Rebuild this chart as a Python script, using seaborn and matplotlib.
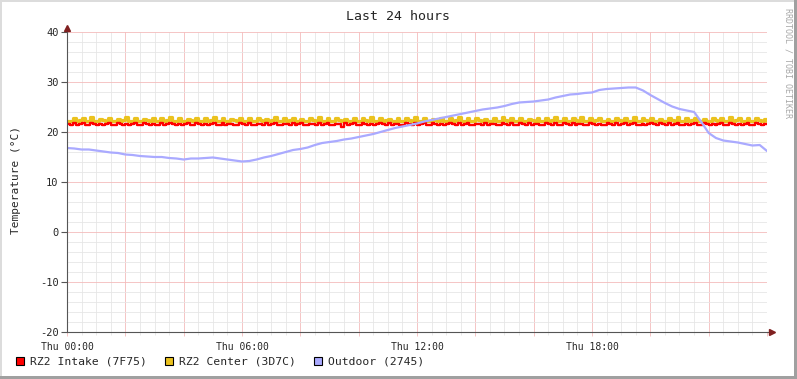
import matplotlib
matplotlib.use("Agg")
import matplotlib.pyplot as plt
import matplotlib.ticker as mticker
from matplotlib.patches import Rectangle
import seaborn as sns
import numpy as np
import pandas as pd

# RZ2 Intake, one sample every 6 minutes (00:00 .. 24:00)
intake = [
    21.6, 21.5, 21.8, 21.5, 21.6, 21.9, 21.5, 21.5, 21.8, 21.6, 21.5, 21.7,
    21.5, 21.6, 21.9, 21.5, 21.5, 21.8, 21.6, 21.5, 21.7, 21.5, 21.6, 21.9,
    21.5, 21.5, 21.8, 21.6, 21.5, 21.7, 21.5, 21.4, 21.9, 21.5, 21.6, 21.8,
    21.6, 21.5, 21.7, 21.5, 21.6, 21.9, 21.4, 21.5, 21.8, 21.6, 21.5, 21.7,
    21.5, 21.6, 21.9, 21.5, 21.5, 21.8, 21.5, 21.6, 21.7, 21.4, 21.5, 21.9,
    21.6, 21.5, 21.8, 21.5, 21.5, 21.7, 21.6, 21.5, 21.9, 21.5, 21.6, 21.8,
    21.5, 21.4, 21.7, 21.6, 21.5, 21.9, 21.5, 21.6, 21.8, 21.5, 21.5, 21.7,
    21.6, 21.5, 21.9, 21.4, 21.6, 21.8, 21.5, 21.4, 21.7, 21.6, 21.1, 21.8,
    21.5, 21.6, 21.8, 21.5, 21.4, 21.9, 21.6, 21.5, 21.7, 21.5, 21.6, 21.8,
    21.6, 21.5, 21.9, 21.5, 21.6, 21.7, 21.4, 21.5, 21.8, 21.6, 21.5, 21.9,
    21.5, 21.6, 21.8, 21.5, 21.5, 21.9, 21.6, 21.5, 21.7, 21.5, 21.6, 21.8,
    21.6, 21.4, 21.9, 21.5, 21.6, 21.8, 21.5, 21.4, 21.7, 21.6, 21.5, 21.9,
    21.5, 21.6, 21.7, 21.5, 21.5, 21.8, 21.6, 21.5, 21.9, 21.5, 21.4, 21.8,
    21.6, 21.5, 21.9, 21.5, 21.6, 21.7, 21.4, 21.5, 21.8, 21.6, 21.5, 21.9,
    21.5, 21.5, 21.8, 21.6, 21.5, 21.9, 21.5, 21.6, 21.7, 21.4, 21.5, 21.8,
    21.6, 21.5, 21.7, 21.5, 21.4, 21.9, 21.6, 21.5, 21.8, 21.5, 21.6, 21.9,
    21.5, 21.6, 21.8, 21.4, 21.5, 21.7, 21.5, 21.6, 21.9, 21.6, 21.4, 21.8,
    21.6, 21.5, 21.9, 21.5, 21.6, 21.8, 21.4, 21.5, 21.7, 21.5, 21.6, 21.9,
    21.5, 21.4, 21.8, 21.6, 21.5, 21.7, 21.5, 21.6, 21.9, 21.4, 21.5, 21.8,
    21.6, 21.5, 21.7, 21.5, 21.6, 21.9, 21.5, 21.4, 21.8, 21.6, 21.5, 21.7,
    21.6,
]

# RZ2 Center, same 6 minute samples
center = [
    22.3, 22.2, 22.9, 22.3, 22.4, 22.8, 22.2, 22.3, 23.0, 22.3, 22.2, 22.7,
    22.4, 22.3, 22.9, 22.2, 22.3, 22.6, 22.3, 22.4, 23.0, 22.2, 22.3, 22.8,
    22.3, 22.2, 22.7, 22.4, 22.3, 22.9, 22.2, 22.3, 22.8, 22.3, 22.4, 23.0,
    22.2, 22.3, 22.8, 22.3, 22.2, 22.7, 22.4, 22.3, 22.9, 22.2, 22.3, 22.8,
    22.3, 22.4, 23.0, 22.2, 22.3, 22.8, 22.3, 22.2, 22.7, 22.4, 22.3, 22.9,
    22.2, 22.3, 22.8, 22.3, 22.2, 22.9, 22.4, 22.3, 22.6, 22.2, 22.4, 23.1,
    22.3, 22.2, 22.8, 22.3, 22.4, 22.9, 22.2, 22.3, 22.7, 22.3, 22.2, 22.9,
    22.4, 22.3, 23.0, 22.2, 22.3, 22.8, 22.3, 22.2, 22.9, 22.4, 22.3, 22.7,
    22.2, 22.3, 22.9, 22.3, 22.2, 22.8, 22.4, 22.3, 23.0, 22.2, 22.3, 22.8,
    22.3, 22.4, 22.7, 22.2, 22.3, 22.9, 22.3, 22.2, 22.8, 22.4, 22.3, 23.0,
    22.2, 22.3, 22.8, 22.3, 22.2, 22.7, 22.4, 22.3, 22.9, 22.2, 22.3, 22.8,
    22.3, 22.4, 23.0, 22.2, 22.3, 22.8, 22.3, 22.2, 22.9, 22.4, 22.3, 22.7,
    22.2, 22.3, 22.8, 22.3, 22.2, 23.0, 22.4, 22.3, 22.8, 22.2, 22.3, 22.9,
    22.3, 22.2, 22.7, 22.4, 22.3, 22.9, 22.2, 22.3, 22.8, 22.3, 22.4, 23.0,
    22.2, 22.3, 22.9, 22.3, 22.2, 22.8, 22.4, 22.3, 23.1, 22.2, 22.3, 22.8,
    22.3, 22.4, 22.9, 22.2, 22.3, 22.7, 22.3, 22.2, 22.9, 22.4, 22.3, 22.8,
    22.2, 22.3, 23.0, 22.3, 22.2, 22.8, 22.4, 22.3, 22.9, 22.2, 22.3, 22.7,
    22.3, 22.2, 22.8, 22.4, 22.3, 23.0, 22.2, 22.3, 22.8, 22.3, 22.4, 22.9,
    22.2, 22.3, 22.7, 22.3, 22.2, 22.9, 22.4, 22.3, 22.8, 22.2, 22.3, 23.0,
    22.3, 22.4, 22.8, 22.2, 22.3, 22.9, 22.3, 22.2, 22.8, 22.4, 22.3, 22.6,
    22.3,
]

# Outdoor, one reading every 15 minutes
outdoor = [
    16.8, 16.7, 16.5, 16.5, 16.3, 16.1, 15.9, 15.8, 15.5, 15.4,
    15.2, 15.1, 15.0, 15.0, 14.8, 14.7, 14.5, 14.7, 14.7, 14.8,
    14.9, 14.7, 14.5, 14.3, 14.1, 14.2, 14.5, 14.9, 15.2, 15.6,
    16.0, 16.4, 16.6, 16.9, 17.4, 17.8, 18.0, 18.2, 18.5, 18.7,
    19.0, 19.3, 19.6, 20.0, 20.4, 20.8, 21.1, 21.4, 21.7, 22.1,
    22.4, 22.7, 23.0, 23.3, 23.6, 23.9, 24.2, 24.5, 24.7, 24.9,
    25.2, 25.6, 25.9, 26.0, 26.1, 26.3, 26.5, 26.9, 27.2, 27.5,
    27.6, 27.8, 27.9, 28.4, 28.6, 28.7, 28.8, 28.9, 28.9, 28.3,
    27.4, 26.6, 25.8, 25.1, 24.6, 24.3, 24.0, 22.0, 19.8, 18.8,
    18.3, 18.1, 17.9, 17.6, 17.3, 17.4, 16.2,
]

series_names = ['RZ2 Intake (7F75)', 'RZ2 Center (3D7C)', 'Outdoor (2745)']
series_colors = ['#FF0000', '#EBC21E', '#AAAAFF']
day_labels = {0: 'Thu 00:00', 6: 'Thu 06:00', 12: 'Thu 12:00', 18: 'Thu 18:00'}

df_rooms = pd.DataFrame({
    'hour': np.linspace(0, 24, len(intake)),
    'intake': intake,
    'center': center,
})
df_out = pd.DataFrame({'hour': np.linspace(0, 24, len(outdoor)), 'outdoor': outdoor})

sns.set_style("white")
plt.rcParams['font.family'] = ['DejaVu Sans Mono']
plt.rcParams['axes.unicode_minus'] = False

W, H = 797, 379
fig = plt.figure(figsize=(W / 100, H / 100), dpi=100)
ax = fig.add_axes([67 / W, 47 / H, 700 / W, 300 / H])

sns.lineplot(data=df_rooms, x='hour', y='center', color=series_colors[1],
             lw=2.3, drawstyle='steps-post', ax=ax, legend=False, zorder=3)
sns.lineplot(data=df_rooms, x='hour', y='intake', color=series_colors[0],
             lw=1.7, drawstyle='steps-post', ax=ax, legend=False, zorder=4)
sns.lineplot(data=df_out, x='hour', y='outdoor', color=series_colors[2],
             lw=1.6, ax=ax, legend=False, zorder=5)

ax.set_xlim(0, 24)
ax.set_ylim(-20, 40)
ax.set_xlabel('')
ax.set_ylabel('')

# grid: minor gray, major pink like rrdtool
ax.xaxis.set_major_locator(mticker.MultipleLocator(2))
ax.xaxis.set_minor_locator(mticker.MultipleLocator(0.5))
ax.yaxis.set_major_locator(mticker.MultipleLocator(10))
ax.yaxis.set_minor_locator(mticker.MultipleLocator(2))
ax.xaxis.set_major_formatter(mticker.FuncFormatter(
    lambda v, p: day_labels.get(int(round(v)), '') if abs(v - round(v)) < 1e-6 else ''))
ax.grid(which='minor', color='#E6E6E6', lw=0.6)
ax.grid(which='major', color='#F4BCBC', lw=0.6)
ax.set_axisbelow(True)

for s in ['top', 'right']:
    ax.spines[s].set_visible(False)
for s in ['left', 'bottom']:
    ax.spines[s].set_color('#555555')
    ax.spines[s].set_linewidth(0.8)
    ax.spines[s].set_zorder(6)

ax.tick_params(axis='y', which='major', left=True, length=4, width=0.8,
               color='#555555', labelsize=7.5, pad=2, direction='out')
ax.tick_params(axis='y', which='minor', left=False)
ax.tick_params(axis='x', which='major', bottom=True, length=3, width=0.6,
               color='#F4BCBC', labelsize=7, pad=4, direction='out')
ax.tick_params(axis='x', which='minor', bottom=True, length=2, width=0.6,
               color='#E6E6E6', direction='out')

# axis arrows
ax.plot([1.0, 1.004], [0, 0], transform=ax.transAxes, color='#555555', lw=0.8, clip_on=False)
ax.plot(1.007, 0, marker='>', ms=4, color='#802020', transform=ax.transAxes, clip_on=False)
ax.plot([0, 0], [1.0, 1.01], transform=ax.transAxes, color='#555555', lw=0.8, clip_on=False)
ax.plot(0, 1.013, marker='^', ms=4, color='#802020', transform=ax.transAxes, clip_on=False)

# texts
fig.text(398 / W, 1 - 16 / H, 'Last 24 hours', ha='center', va='center', fontsize=9.5)
fig.text(16 / W, 1 - 180 / H, 'Temperature (°C)', rotation=90, ha='center', va='center', fontsize=8)
fig.text(788 / W, 1 - 8 / H, 'RRDTOOL / TOBI OETIKER', rotation=270, ha='center', va='top',
         fontsize=6, color='#A8A8A8')

# legend
legend_x = [16, 165, 314]
for x0, name, col in zip(legend_x, series_names, series_colors):
    fig.add_artist(Rectangle((x0 / W, 1 - 365 / H), 8 / W, 8 / H, transform=fig.transFigure,
                             facecolor=col, edgecolor='black', lw=0.8))
    fig.text((x0 + 14) / W, 1 - 361 / H, name, ha='left', va='center', fontsize=8.2)

# rrdtool-style frame
fig.add_artist(Rectangle((0, 1 - 2 / H), 1, 2 / H, transform=fig.transFigure, color='#DCDCDC', lw=0))
fig.add_artist(Rectangle((0, 0), 2 / W, 1, transform=fig.transFigure, color='#DCDCDC', lw=0))
fig.add_artist(Rectangle((1 - 3 / W, 0), 3 / W, 1, transform=fig.transFigure, color='#A0A0A0', lw=0))
fig.add_artist(Rectangle((0, 0), 1, 3 / H, transform=fig.transFigure, color='#A0A0A0', lw=0))

fig.savefig('out.png', dpi=100)
